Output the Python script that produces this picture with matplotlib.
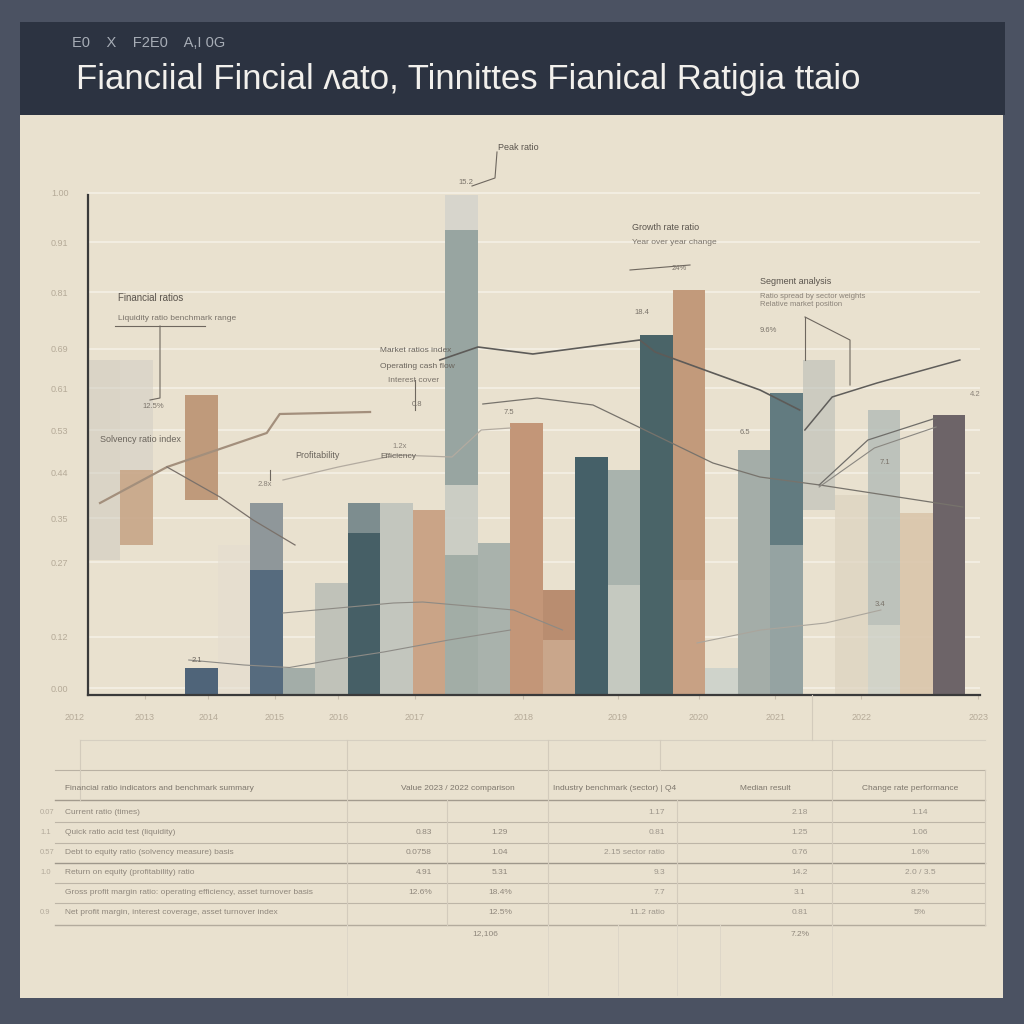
import matplotlib
matplotlib.use("Agg")
import matplotlib.pyplot as plt
from matplotlib.patches import Rectangle
from matplotlib.lines import Line2D
import numpy as np

# ---------------- data ----------------
title = "Fianciial Fincial \u028cato, Tinnittes Fianical Ratigia ttaio"
subtitle = "E0    X    F2E0    A,I 0G"

slots = list(range(27))
lower_bottom = [27, 30, 0, 0, 0, 0, 0, 0, 0, 0, 0, 0, 0, 0, 0, 0, 0, 0, 0, 0, 0, 0, 37, 0, 0, 0, 0]
lower_top = [67, 45, 0, 5.4, 30, 25, 5.4, 22.4, 32.4, 38.4, 37, 28, 30.4, 54.4, 11, 47.6, 22, 72, 23, 5.4, 49, 30, 67, 40, 14, 36.4, 56]
upper_bottom = [0, 45, 0, 39, 0, 25, 0, 0, 32.4, 0, 0, 42, 0, 0, 11, 0, 22, 0, 23, 0, 0, 30, 0, 0, 14, 0, 0]
upper_top = [0, 67, 0, 60, 0, 38.4, 0, 0, 38.4, 0, 0, 93, 0, 0, 21, 0, 45, 0, 81, 0, 0, 60.4, 0, 0, 57, 0, 0]
accent_bottom = [28, 93]
accent_top = [42, 100]
accent_slot = [11, 11]

line_brown_x = [-0.13, 1.93, 5.0, 5.4, 8.18]
line_brown_y = [38.4, 45.6, 52.4, 56.2, 56.6]
line_drop_x = [1.93, 3.56, 4.58, 5.87]
line_drop_y = [45.6, 39.6, 35.0, 30.0]
line_base_x = [2.6, 4.3, 5.7, 7.0, 8.6, 10.6, 12.5]
line_base_y = [7.0, 6.0, 5.5, 7.0, 8.6, 11.0, 13.0]
line_dark_x = [10.33, 11.5, 13.19, 16.48, 16.95, 18.73, 20.18, 21.4]
line_dark_y = [67.0, 69.6, 68.2, 71.0, 68.6, 64.4, 61.0, 57.0]
line_rise_x = [21.56, 22.4, 23.78, 26.33]
line_rise_y = [53.0, 59.6, 62.4, 67.0]
line_mid_x = [11.65, 13.32, 15.04, 15.87, 18.73, 20.18, 22.02, 26.42]
line_mid_y = [58.2, 59.4, 58.0, 55.4, 46.4, 43.6, 42.0, 37.6]
line_conv1_x = [22.0, 23.5, 25.6]
line_conv1_y = [42.0, 51.0, 55.4]
line_conv2_x = [22.0, 23.7, 25.6]
line_conv2_y = [41.6, 49.4, 53.6]
line_light_x = [5.5, 7.2, 9.0, 10.7, 11.6, 12.5]
line_light_y = [43.0, 45.6, 48.0, 47.6, 53.0, 53.4]
line_low_x = [5.5, 8.9, 9.8, 12.6, 14.1]
line_low_y = [16.4, 18.4, 18.6, 17.0, 13.0]
line_low2_x = [18.24, 20.2, 22.2, 23.9]
line_low2_y = [10.4, 13.0, 14.4, 17.0]

y_tick_vals = [1.4, 11.6, 26.6, 35.4, 44.4, 53.0, 61.4, 69.2, 80.6, 90.6, 100.4]
y_tick_labels = ["0.00", "0.12", "0.27", "0.35", "0.44", "0.53", "0.61", "0.69", "0.81", "0.91", "1.00"]
x_tick_labels = ["2012", "2013", "2014", "2015", "2016", "2017", "2018", "2019", "2020", "2021", "2022", "2023"]

table_header = ["Financial ratio indicators and benchmark summary", "Value 2023 / 2022 comparison",
                "Industry benchmark (sector) | Q4", "Median result", "Change rate performance"]
row_labels = ["Current ratio (times)", "Quick ratio acid test (liquidity)",
              "Debt to equity ratio (solvency measure) basis",
              "Return on equity (profitability) ratio",
              "Gross profit margin ratio: operating efficiency, asset turnover basis",
              "Net profit margin, interest coverage, asset turnover index"]
col_a = ["", "0.83", "0.0758", "4.91", "12.6%", ""]
col_b = ["", "1.29", "1.04", "5.31", "18.4%", "12.5%"]
col_c = ["1.17", "0.81", "2.15 sector ratio", "9.3", "7.7", "11.2 ratio"]
col_d = ["2.18", "1.25", "0.76", "14.2", "3.1", "0.81"]
col_e = ["1.14", "1.06", "1.6%", "2.0 / 3.5", "8.2%", "5%"]
total_b = "12,106"
total_d = "7.2%"
margin_labels = ["0.07", "1.1", "0.57", "1.0", "", "0.9"]

# ---------------- styles ----------------
lower_colors = ["#cfcbc0", "#c7a587", "#e9e1cf", "#4f6479", "#e4ddcf", "#566b7e", "#a3ada8", "#c0c2b9",
                "#465f66", "#c3c6be", "#caa487", "#a2ada6", "#a9b2ac", "#c39678", "#c9a68b", "#456068",
                "#c5c9c0", "#4a6468", "#c8a184", "#cfd3cb", "#a4ada8", "#95a3a2", "#b9bdb6", "#ddd3c0",
                "#cdd0c7", "#dac6ab", "#6d6468"]
lower_alpha = [0.55, 0.9, 0.0, 1, 0.6, 1, 1, 1, 1, 1, 1, 1, 1, 1, 1, 1, 1, 1, 1, 1, 1, 1, 0.6, 0.7, 0.8, 0.9, 1]
upper_colors = ["#ffffff", "#d4d0c6", "#ffffff", "#bf9a7b", "#ffffff", "#8f979a", "#ffffff", "#ffffff",
                "#7d8d8f", "#ffffff", "#ffffff", "#98a5a1", "#ffffff", "#ffffff", "#b98d70", "#ffffff",
                "#a9b3ad", "#ffffff", "#c29a7b", "#ffffff", "#ffffff", "#627b80", "#ffffff", "#ffffff",
                "#b2bbb6", "#ffffff", "#ffffff"]
upper_alpha = [0, 0.6, 0, 1, 0, 1, 0, 0, 1, 0, 0, 1, 0, 0, 1, 0, 1, 0, 1, 0, 0, 1, 0, 0, 0.8, 0, 0]
accent_colors = ["#c8cbc3", "#d6d4cc"]

BG = "#4b5262"
HEADER = "#2c3341"
PANEL = "#e9e1cf"
TXT = "#8f877c"

plt.rcParams["font.family"] = ["Liberation Sans", "DejaVu Sans"]

fig = plt.figure(figsize=(10.24, 10.24), dpi=100)
fig.patch.set_facecolor(BG)


def fx(px):
    return px / 1024.0


def fy(py):
    return 1 - py / 1024.0


# background panels
fig.add_artist(Rectangle((fx(20), fy(115)), fx(985), 93 / 1024, transform=fig.transFigure,
                         facecolor=HEADER, edgecolor="none", zorder=0))
fig.add_artist(Rectangle((fx(20), fy(998)), fx(983), 883 / 1024, transform=fig.transFigure,
                         facecolor=PANEL, edgecolor="none", zorder=0))
fig.text(fx(72), fy(43), subtitle, color="#a7adb6", fontsize=10.5, va="center", ha="left")
fig.text(fx(76), fy(80), title, color="#f2f0ec", fontsize=25, va="center", ha="left")

# ---------------- chart ----------------
ax = fig.add_axes([fx(88), fy(695), fx(892), (695 - 140) / 1024])
ax.set_facecolor("none")

x = np.array(slots)
lb = np.array(lower_bottom)
lt = np.array(lower_top)
for i in range(len(x)):
    if lower_alpha[i] > 0 and lt[i] > lb[i]:
        ax.bar(x[i], lt[i] - lb[i], bottom=lb[i], width=1.0, color=lower_colors[i],
               alpha=lower_alpha[i], linewidth=0, zorder=2)
    if upper_alpha[i] > 0 and upper_top[i] > upper_bottom[i]:
        ax.bar(x[i], upper_top[i] - upper_bottom[i], bottom=upper_bottom[i], width=1.0,
               color=upper_colors[i], alpha=upper_alpha[i], linewidth=0, zorder=2)
for s, b, t, c in zip(accent_slot, accent_bottom, accent_top, accent_colors):
    ax.bar(s, t - b, bottom=b, width=1.0, color=c, alpha=0.9, linewidth=0, zorder=2)

lines = [
    (line_brown_x, line_brown_y, "#a38f7c", 1.6),
    (line_drop_x, line_drop_y, "#7a716a", 0.9),
    (line_base_x, line_base_y, "#8d8b86", 0.8),
    (line_dark_x, line_dark_y, "#5d5b58", 1.2),
    (line_rise_x, line_rise_y, "#5f5d5a", 1.1),
    (line_mid_x, line_mid_y, "#77736c", 0.9),
    (line_conv1_x, line_conv1_y, "#6f6d69", 0.9),
    (line_conv2_x, line_conv2_y, "#8a8781", 0.8),
    (line_light_x, line_light_y, "#b3aba0", 0.9),
    (line_low_x, line_low_y, "#8d8a84", 0.8),
    (line_low2_x, line_low2_y, "#aaa59c", 0.8),
]
for lx, ly, c, lw in lines:
    ax.plot(lx, ly, color=c, lw=lw, zorder=4)

ax.set_yticks(y_tick_vals)
ax.set_yticklabels(y_tick_labels)
ax.grid(axis="y", color="#f6f1e7", lw=1.1, zorder=1)
ax.tick_params(axis="y", length=0, pad=14, labelsize=6.5, labelcolor="#b5aa98")
x_tick_pos = [-0.9, 1.25, 3.2, 5.25, 7.2, 9.56, 12.9, 15.8, 18.3, 20.65, 23.3, 26.9]
ax.set_xticks(x_tick_pos[1:])
ax.set_xticklabels(x_tick_labels[1:])
ax.tick_params(axis="x", length=3, color="#c9bfae", pad=10, labelsize=6.5, labelcolor="#b5aa98")
# first year label sits left of the axis, outside the view
ax.annotate(x_tick_labels[0], xy=(x_tick_pos[0], 0), xycoords=("data", "axes fraction"),
            xytext=(0, -13), textcoords="offset points", ha="center", va="top",
            fontsize=6.5, color="#b5aa98", annotation_clip=False)
# limits set after ticks so the ticks do not widen the view
ax.set_xlim(-0.5, 26.95)
ax.set_ylim(0, (695 - 140) / 5)
for t in ax.get_xticklabels() + ax.get_yticklabels():
    t.set_clip_on(False)
for side in ["top", "right"]:
    ax.spines[side].set_visible(False)
ax.spines["left"].set_bounds(0, 100)
ax.spines["left"].set_color("#3a3a3a")
ax.spines["left"].set_linewidth(1.6)
ax.spines["bottom"].set_color("#3a3a3a")
ax.spines["bottom"].set_linewidth(1.6)
ax.set_axisbelow(True)

# annotations (figure-pixel placement)
ann = [
    (118, 298, "Financial ratios", 7, "#5a544d"),
    (118, 318, "Liquidity ratio benchmark range", 6, "#7a736a"),
    (142, 407, "12.5%", 5.5, "#7a736a"),
    (100, 440, "Solvency ratio index", 6.5, "#6a645c"),
    (258, 484, "2.8x", 5.5, "#8a8278"),
    (295, 456, "Profitability", 6.5, "#6a645c"),
    (380, 456, "Efficiency", 6, "#6a645c"),
    (392, 446, "1.2x", 5.5, "#8a8278"),
    (380, 350, "Market ratios index", 6, "#6a645c"),
    (380, 367, "Operating cash flow", 6, "#6a645c"),
    (388, 380, "Interest cover", 6, "#7a736a"),
    (412, 404, "0.8", 5.5, "#7a736a"),
    (498, 148, "Peak ratio", 6.5, "#5a544d"),
    (458, 183, "15.2", 5.5, "#7a736a"),
    (632, 228, "Growth rate ratio", 6.5, "#5a544d"),
    (632, 242, "Year over year change", 6, "#7a736a"),
    (672, 268, "24%", 5.5, "#7a736a"),
    (634, 313, "18.4", 5.5, "#7a736a"),
    (760, 282, "Segment analysis", 6.5, "#5a544d"),
    (760, 296, "Ratio spread by sector weights", 5.5, "#8a8278"),
    (760, 305, "Relative market position", 5.5, "#8a8278"),
    (760, 330, "9.6%", 5.5, "#7a736a"),
    (740, 433, "6.5", 5.5, "#7a736a"),
    (880, 462, "7.1", 5.5, "#7a736a"),
    (875, 605, "3.4", 5.5, "#7a736a"),
    (970, 395, "4.2", 5.5, "#8a8278"),
    (504, 413, "7.5", 5.5, "#7a736a"),
    (192, 660, "2.1", 5.5, "#6a645c"),
]
for px, py, s, fs, c in ann:
    fig.text(fx(px), fy(py), s, fontsize=fs, color=c, ha="left", va="center", zorder=5)

leaders = [
    ([160, 160, 150], [326, 398, 400]),
    ([115, 205], [326, 326]),
    ([497, 495, 472], [152, 178, 186]),
    ([630, 690], [270, 265]),
    ([805, 850, 850], [317, 340, 385]),
    ([805, 805], [317, 360]),
    ([415, 415], [380, 410]),
    ([270, 270], [470, 480]),
]
for lxs, lys in leaders:
    fig.add_artist(Line2D([fx(v) for v in lxs], [fy(v) for v in lys], transform=fig.transFigure,
                          color="#6e675f", lw=0.8, zorder=5))

# ---------------- table ----------------
def hline(x0, x1, y, c="#c9c1b2", lw=0.8):
    fig.add_artist(Line2D([fx(x0), fx(x1)], [fy(y), fy(y)], transform=fig.transFigure,
                          color=c, lw=lw, zorder=3))


def vline(x0, y0, y1, c="#d3cbbc", lw=0.8):
    fig.add_artist(Line2D([fx(x0), fx(x0)], [fy(y0), fy(y1)], transform=fig.transFigure,
                          color=c, lw=lw, zorder=3))


hline(80, 985, 740, "#d6cfc1")
hline(55, 985, 770, "#b9b1a3")
hline(55, 985, 800, "#a39b8e", 1.0)
for yy in [822, 843, 883, 903]:
    hline(55, 985, yy, "#bdb5a7")
hline(55, 985, 863, "#9e978b", 1.0)
hline(55, 985, 925, "#b3ab9d", 1.0)
for xx, y0, y1 in [(80, 740, 800), (347, 740, 925), (447, 800, 925), (548, 740, 925),
                   (660, 740, 770), (677, 800, 925), (832, 740, 925), (985, 770, 925),
                   (812, 695, 740)]:
    vline(xx, y0, y1)
for xx in [347, 548, 618, 677, 720, 832]:
    vline(xx, 925, 995, "#ddd6c8", 0.7)

hdr_x = [65, 458, 615, 765, 910]
hdr_ha = ["left", "center", "center", "center", "center"]
for s, xx, ha in zip(table_header, hdr_x, hdr_ha):
    fig.text(fx(xx), fy(788), s, fontsize=6, color="#7d766c", ha=ha, va="center")

row_y = [812, 832, 853, 873, 893, 913]
for i, yy in enumerate(row_y):
    fig.text(fx(65), fy(yy), row_labels[i], fontsize=6, color=TXT, ha="left", va="center")
    fig.text(fx(432), fy(yy), col_a[i], fontsize=6, color=TXT, ha="right", va="center")
    fig.text(fx(500), fy(yy), col_b[i], fontsize=6, color=TXT, ha="center", va="center")
    fig.text(fx(665), fy(yy), col_c[i], fontsize=6, color="#9d968b", ha="right", va="center")
    fig.text(fx(800), fy(yy), col_d[i], fontsize=6, color="#9d968b", ha="center", va="center")
    fig.text(fx(920), fy(yy), col_e[i], fontsize=6, color="#9d968b", ha="center", va="center")
    fig.text(fx(40), fy(yy), margin_labels[i], fontsize=5.5, color="#b3aa9b", ha="left", va="center")
fig.text(fx(485), fy(934), total_b, fontsize=6, color=TXT, ha="center", va="center")
fig.text(fx(800), fy(934), total_d, fontsize=6, color=TXT, ha="center", va="center")

fig.savefig("out.png", dpi=100, facecolor=fig.get_facecolor())
